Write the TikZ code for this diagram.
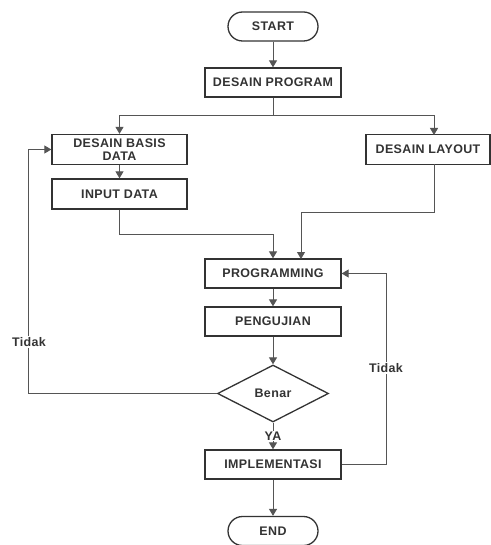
\documentclass[tikz,border=0pt]{standalone}
\usepackage{fontspec}
\setmainfont{Liberation Sans}[LetterSpace=3]
\usetikzlibrary{arrows.meta,shapes.geometric}
\definecolor{txt}{HTML}{333333}
\definecolor{ln}{HTML}{555555}
\begin{document}
\begin{tikzpicture}[x=1bp,y=-1bp,
  box/.style={draw=txt,line width=1.3bp,minimum height=29bp,inner sep=1bp,
    font=\fontsize{12.5}{12.5}\selectfont\bfseries,text=txt,align=center},
  term/.style={box,rounded corners=14.5bp,minimum width=90bp},
  dec/.style={draw=txt,line width=1.3bp,diamond,aspect=1.95,minimum width=111bp,minimum height=57bp,
    inner sep=0pt,font=\fontsize{12.5}{12.5}\selectfont\bfseries,text=txt},
  lbl/.style={fill=white,inner sep=1bp,font=\fontsize{12.5}{12.5}\selectfont\bfseries,text=txt},
  conn/.style={draw=ln,line width=1bp},
  arr/.style={conn,-{Triangle[length=7bp,width=8bp]}}]
\useasboundingbox (0,0) rectangle (491,545);
\fill[white] (0,0) rectangle (491,545);
\node[term] (start) at (273,26.5) {START};
\node[box,minimum width=136bp] (dp) at (273,82.5) {DESAIN PROGRAM};
\node[box,minimum width=135bp,minimum height=30bp,inner sep=0pt] (dbd) at (119.5,149.5) {DESAIN BASIS\\[0.5bp]DATA};
\node[box,minimum width=124bp,minimum height=30bp] (lay) at (428,149.5) {DESAIN LAYOUT};
\node[box,minimum width=135bp,minimum height=30bp] (inp) at (119.5,194) {INPUT DATA};
\node[box,minimum width=136bp] (prog) at (273,273.5) {PROGRAMMING};
\node[box,minimum width=136bp] (peng) at (273,321.5) {PENGUJIAN};
\node[dec] (benar) at (273,393.5) {Benar};
\node[box,minimum width=136bp] (impl) at (273,464.5) {IMPLEMENTASI};
\node[term] (end) at (273,531) {END};
\coordinate (split) at (273,116);
\coordinate (layin) at (434,135);
\coordinate (layout) at (434,164.5);
\coordinate (progin) at (301,259);
\draw[arr] (start) -- (dp);
\draw[arr] (dp.south) -- (split) -| (dbd.north);
\draw[arr] (split) -| (layin);
\draw[arr] (dbd) -- (inp);
\draw[arr] (inp.south) |- (273,234) -- (prog.north);
\draw[arr] (layout) |- (301,212) -- (progin);
\draw[arr] (prog) -- (peng);
\draw[arr] (peng) -- (benar.north);
\draw[arr] (benar.west) -- (28,393.5) -- (28,149.5) -- (dbd.west);
\node[lbl] (t1) at (29,342) {Tidak};
\draw[arr] (benar.south) -- (impl.north) node[lbl,pos=0.5] (ya) {YA};
\draw[arr] (impl.east) -- (386,464.5) -- (386,273.5) -- (prog.east);
\node[lbl] (t2) at (386,368) {Tidak};
\draw[arr] (impl) -- (end);
\end{tikzpicture}
\end{document}
